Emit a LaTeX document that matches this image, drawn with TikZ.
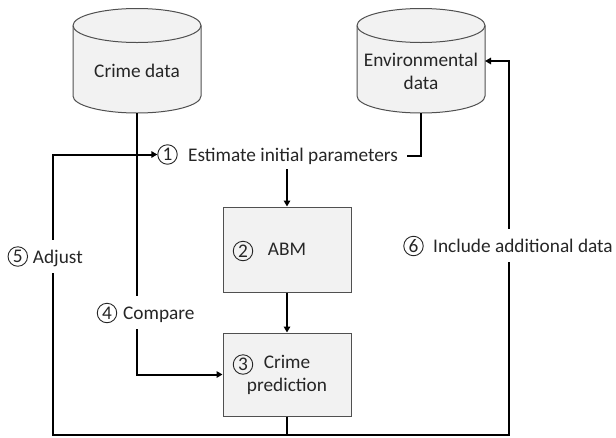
\documentclass[tikz,border=0pt]{standalone}
\usepackage{fontspec}
\setmainfont{Carlito}
\usetikzlibrary{arrows.meta}
\definecolor{shade}{HTML}{F2F2F2}
\definecolor{rim}{HTML}{505050}
\definecolor{ink}{HTML}{262626}
\begin{document}
\begin{tikzpicture}[x=1pt,y=1pt,
  txt/.style={font=\fontsize{19.3}{23}\selectfont, text=ink, inner sep=0pt},
  gaplbl/.style={txt, fill=white, text height=18.5pt, text depth=5pt, inner ysep=5pt},
  num/.style={circle, draw=ink, line width=0.9pt, minimum size=19.5pt, inner sep=0pt,
    text=ink, font=\fontsize{19.3}{23}\selectfont},
  stepbox/.style={txt, draw=rim, fill=shade, line width=1pt, minimum width=128pt, align=center},
  drum/.style={draw=rim, fill=shade, line width=1pt},
  conn/.style={draw=black, line width=2pt},
  tip/.style={-{Triangle[length=6pt,width=6.5pt]}}]
\useasboundingbox (0,0) rectangle (616,-437);

% data stores
\draw[drum] (73,-25.5) -- (73,-96)
  arc[start angle=180,end angle=360,x radius=64,y radius=17] -- (201,-25.5)
  arc[start angle=0,end angle=180,x radius=64,y radius=17] -- cycle;
\draw[drum,fill=none] (73,-25.5) arc[start angle=180,end angle=360,x radius=64,y radius=17];
\draw[drum] (357,-25.5) -- (357,-96)
  arc[start angle=180,end angle=360,x radius=64,y radius=17] -- (485,-25.5)
  arc[start angle=0,end angle=180,x radius=64,y radius=17] -- cycle;
\draw[drum,fill=none] (357,-25.5) arc[start angle=180,end angle=360,x radius=64,y radius=17];

\node[txt,anchor=base] (crime) at (137,-77) {Crime data};
\node[txt,align=center] (env) at (421,-71) {Environmental\\data};
\coordinate (crimebot) at (137,-113);
\coordinate (envbot) at (421,-113);
\coordinate (envin) at (485,-61);

% model steps
\node[stepbox, minimum height=85pt] (abm) at (287,-249.5) {ABM};
\node[stepbox, minimum height=83pt] (pred) at (287,-374.5) {Crime\\prediction};
\node[txt,anchor=base west] (est) at (188,-161) {Estimate initial parameters};

\node[num] (n1) at (167.5,-154.5) {1};
\node[num] (n2) at (243,-251) {2};
\node[num] (n3) at (243,-364.5) {3};

% feedback loop corners
\coordinate (bl) at (53,-435);
\coordinate (br) at (509,-435);

% connectors
\draw[conn,tip] ([yshift=-5pt]est.south -| abm.north) -- (abm.north);
\draw[conn,tip] (abm.south) -- (pred.north);
\draw[conn] (envbot) |- ([xshift=9pt]est.east);
\draw[conn,tip] (pred.south) -- (pred.south |- bl) -- (bl) |- (n1.west);
\draw[conn,tip] (pred.south) -- (pred.south |- br) -- (br) |- (envin);
\draw[conn,tip] (crimebot) |- (pred.west);

% connector labels
\node[gaplbl,anchor=base west] (cmp) at (123,-319) {Compare};
\node[num] (n4) at (107,-313) {4};
\node[gaplbl,anchor=base west] (adj) at (32.7,-263) {Adjust};
\node[num] (n5) at (17.8,-256.5) {5};
\node[gaplbl,anchor=base west] (inc) at (433,-252) {Include additional data};
\node[num] (n6) at (413.5,-246) {6};
\end{tikzpicture}
\end{document}
